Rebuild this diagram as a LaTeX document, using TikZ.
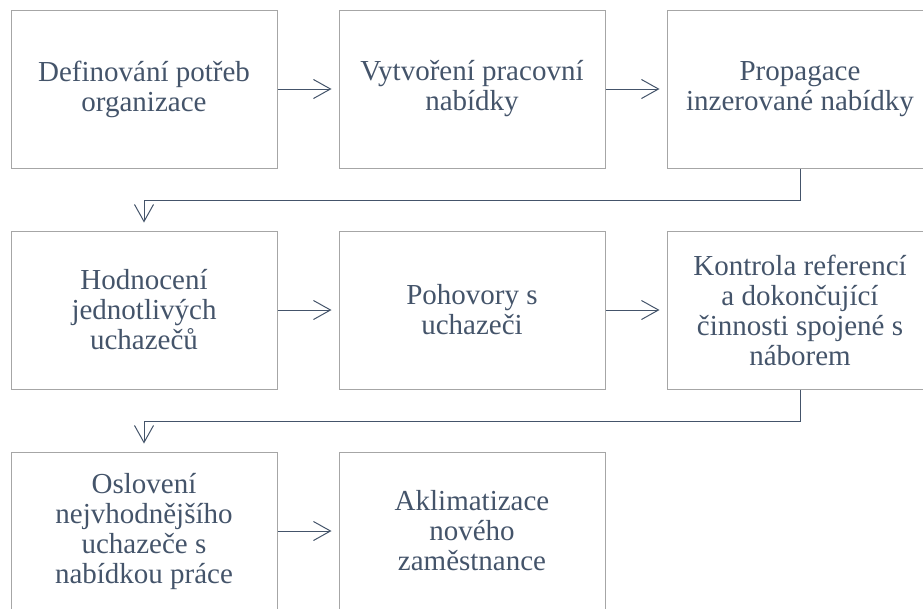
\documentclass[tikz,border=0pt]{standalone}
\usepackage{fontspec}
\setmainfont{Liberation Serif}
\usepackage{tikz}
\usetikzlibrary{arrows.meta,positioning}
\definecolor{ramecek}{HTML}{A6A6A6}
\definecolor{modra}{HTML}{44546A}

\begin{document}
\begin{tikzpicture}[node distance=62pt and 61pt,>={Straight Barb[length=17pt,width=19pt]}]
  \tikzstyle{krok}=[rectangle,draw=ramecek,line width=1pt,
                    minimum width=266pt,minimum height=158pt,
                    align=center,text=modra,font=\fontsize{29}{30}\selectfont]
  \tikzstyle{sipka}=[->,draw=modra,line width=1pt,shorten >=7pt]
  \useasboundingbox (0,0) rectangle (923pt,-608pt);
  % prvni radek
  \node [krok] (d1) at (144pt,-89pt) {Definování potřeb\\organizace};
  \node [krok] (d2) [right=of d1] {Vytvoření pracovní\\nabídky};
  \node [krok] (d3) [right=of d2] {Propagace\\inzerované nabídky};
  % druhy radek
  \node [krok] (d4) [below=of d1] {Hodnocení\\jednotlivých\\uchazečů};
  \node [krok] (d5) [right=of d4] {Pohovory s\\uchazeči};
  \node [krok] (d6) [right=of d5] {Kontrola referencí\\a dokončující\\činnosti spojené s\\náborem};
  % treti radek
  \node [krok] (d7) [below=of d4] {Oslovení\\nejvhodnějšího\\uchazeče s\\nabídkou práce};
  \node [krok] (d8) [right=of d7] {Aklimatizace\\nového\\zaměstnance};
  % sipky
  \draw [sipka] (d1) -- (d2);
  \draw [sipka] (d2) -- (d3);
  \draw [sipka,shorten >=8pt] (d3.south) -- ++(0,-32pt) -| (d4.north);
  \draw [sipka] (d4) -- (d5);
  \draw [sipka] (d5) -- (d6);
  \draw [sipka,shorten >=8pt] (d6.south) -- ++(0,-32pt) -| (d7.north);
  \draw [sipka] (d7) -- (d8);
\end{tikzpicture}
\end{document}
